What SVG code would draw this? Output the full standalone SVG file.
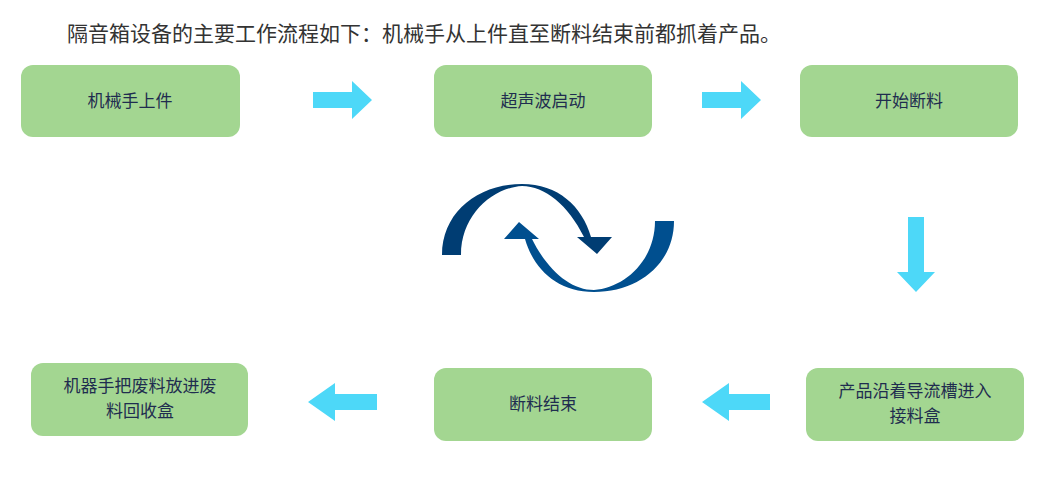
<svg xmlns="http://www.w3.org/2000/svg" width="1058" height="478" viewBox="0 0 1058 478">
<style>
.n{fill:#a3d691}
.t{font-family:"Noto Sans CJK SC",sans-serif;font-size:17px;fill:#1f2d4f;text-anchor:middle}
.a{fill:#4dd8f8}
</style>
<rect width="1058" height="478" fill="#fff"/>
<text x="67" y="41" style="font-family:'Noto Sans CJK SC',sans-serif;font-size:21px;fill:#333">隔音箱设备的主要工作流程如下：机械手从上件直至断料结束前都抓着产品。</text>
<g id="n1"><rect class="n" x="21" y="65" width="219" height="72" rx="12"/><text class="t" x="130" y="107">机械手上件</text></g>
<g id="n2"><rect class="n" x="434" y="65" width="218" height="72" rx="12"/><text class="t" x="543" y="107">超声波启动</text></g>
<g id="n3"><rect class="n" x="800" y="65" width="218" height="72" rx="12"/><text class="t" x="909" y="107">开始断料</text></g>
<g id="n4"><rect class="n" x="806" y="368" width="218" height="73" rx="12"/><text class="t" x="915" y="397">产品沿着导流槽进入</text><text class="t" x="915" y="422">接料盒</text></g>
<g id="n5"><rect class="n" x="434" y="368" width="218" height="73" rx="12"/><text class="t" x="543" y="410">断料结束</text></g>
<g id="n6"><rect class="n" x="31" y="363" width="217" height="73" rx="12"/><text class="t" x="140" y="392">机器手把废料放进废</text><text class="t" x="140" y="417">料回收盒</text></g>
<g id="connectors">
<polygon class="a" points="313,92 352,92 352,81 372,100 352,119 352,108 313,108"/>
<polygon class="a" points="702,92 741,92 741,81 761,100 741,119 741,108 702,108"/>
<polygon class="a" points="908,217 924,217 924,272 935,272 916,292 897,272 908,272"/>
<polygon class="a" points="770,394 729,394 729,383 702,402 729,421 729,410 770,410"/>
<polygon class="a" points="377,394 335,394 335,383 308,402 335,421 335,410 377,410"/>
<path fill="#003d73" d="M442,255 C442,212 478,184 522,184 C558,184 582,206 591,237 L612,237 L597,254 L577,237 L584,237 C568,205 545,186 522,186 C492,188 461,215 461,255 Z"/>
<path fill="#004f8f" transform="rotate(180 558 238)" d="M442,255 C442,212 478,184 522,184 C558,184 582,206 591,237 L612,237 L597,254 L577,237 L584,237 C568,205 545,186 522,186 C492,188 461,215 461,255 Z"/>
</g>
</svg>
